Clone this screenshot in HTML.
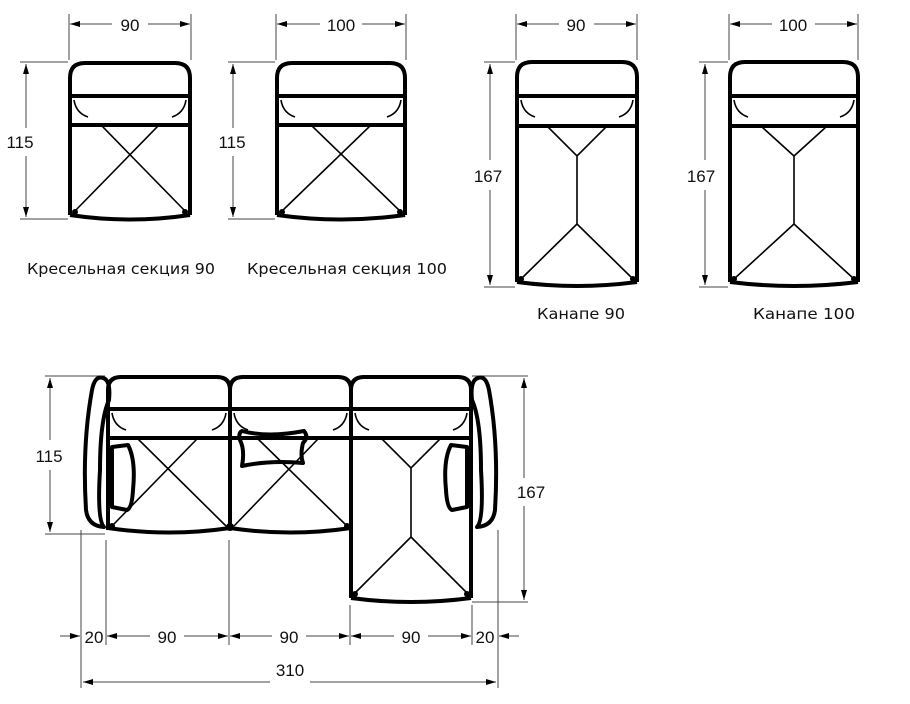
<!DOCTYPE html>
<html><head><meta charset="utf-8"><style>
html,body{margin:0;padding:0;background:#fff;}
svg{display:block;}
text{font-family:"Liberation Sans",sans-serif;fill:#111;}
text.l{font-family:"DejaVu Sans","Liberation Sans",sans-serif;}
.d{stroke:#444;stroke-width:1;fill:none;}
.o{stroke:#000;stroke-width:4;fill:none;stroke-linejoin:round;}
.t{stroke:#000;stroke-width:1.6;fill:none;}
</style></head><body>
<svg width="910" height="704" viewBox="0 0 910 704" xmlns="http://www.w3.org/2000/svg">
<defs>
<marker id="a" viewBox="0 0 10 6" refX="10" refY="3" markerWidth="10" markerHeight="6" orient="auto-start-reverse"><path d="M0,0L10,3L0,6z" fill="#000"/></marker>
</defs>

<!-- Chair 90 -->
<g>
<line class="d" x1="69" y1="14" x2="69" y2="60"/><line class="d" x1="191" y1="14" x2="191" y2="60"/>
<line class="d" x1="70" y1="24" x2="112" y2="24" marker-start="url(#a)"/><line class="d" x1="148" y1="24" x2="190" y2="24" marker-end="url(#a)"/>
<text x="130" y="31" font-size="17" text-anchor="middle">90</text>
<line class="d" x1="20" y1="62" x2="68" y2="62"/><line class="d" x1="20" y1="219" x2="68" y2="219"/>
<line class="d" x1="26" y1="64" x2="26" y2="128" marker-start="url(#a)"/><line class="d" x1="26" y1="156" x2="26" y2="217" marker-end="url(#a)"/>
<text x="20" y="148" font-size="17" text-anchor="middle">115</text>
<path class="o" d="M70,215 L70,78 Q70,63 85,63 L175,63 Q190,63 190,78 L190,215"/>
<line class="o" x1="70" y1="96" x2="190" y2="96"/>
<line class="o" x1="72" y1="125" x2="188" y2="125"/>
<path class="o" d="M70,215 Q130,224 190,215"/>
<path class="t" d="M74,100 Q76,113 88,117 M186,100 Q184,113 172,117"/>
<line class="t" x1="102" y1="126" x2="186" y2="212"/><line class="t" x1="158" y1="126" x2="74" y2="212"/>
<circle cx="75" cy="212" r="3"/><circle cx="185" cy="212" r="3"/>
</g>

<!-- Chair 100 -->
<g>
<line class="d" x1="276" y1="14" x2="276" y2="60"/><line class="d" x1="406" y1="14" x2="406" y2="60"/>
<line class="d" x1="277" y1="24" x2="320" y2="24" marker-start="url(#a)"/><line class="d" x1="362" y1="24" x2="405" y2="24" marker-end="url(#a)"/>
<text x="341" y="31" font-size="17" text-anchor="middle">100</text>
<line class="d" x1="228" y1="62" x2="275" y2="62"/><line class="d" x1="228" y1="219" x2="275" y2="219"/>
<line class="d" x1="233" y1="64" x2="233" y2="128" marker-start="url(#a)"/><line class="d" x1="233" y1="156" x2="233" y2="217" marker-end="url(#a)"/>
<text x="232" y="148" font-size="17" text-anchor="middle">115</text>
<path class="o" d="M277,215 L277,78 Q277,63 292,63 L390,63 Q405,63 405,78 L405,215"/>
<line class="o" x1="277" y1="96" x2="405" y2="96"/>
<line class="o" x1="279" y1="125" x2="403" y2="125"/>
<path class="o" d="M277,215 Q341,224 405,215"/>
<path class="t" d="M281,100 Q283,113 295,117 M401,100 Q399,113 387,117"/>
<line class="t" x1="312" y1="126" x2="401" y2="212"/><line class="t" x1="370" y1="126" x2="281" y2="212"/>
<circle cx="282" cy="212" r="3"/><circle cx="400" cy="212" r="3"/>
</g>
<text class="l" x="27" y="274" font-size="15.5" textLength="188" lengthAdjust="spacingAndGlyphs">Кресельная секция 90</text>
<text class="l" x="247" y="274" font-size="15.5" textLength="200" lengthAdjust="spacingAndGlyphs">Кресельная секция 100</text>

<!-- Canape 90 -->
<g>
<line class="d" x1="516" y1="14" x2="516" y2="60"/><line class="d" x1="637" y1="14" x2="637" y2="60"/>
<line class="d" x1="517" y1="24" x2="559" y2="24" marker-start="url(#a)"/><line class="d" x1="594" y1="24" x2="636" y2="24" marker-end="url(#a)"/>
<text x="576" y="31" font-size="17" text-anchor="middle">90</text>
<line class="d" x1="484" y1="62" x2="515" y2="62"/><line class="d" x1="484" y1="287" x2="515" y2="287"/>
<line class="d" x1="490" y1="64" x2="490" y2="160" marker-start="url(#a)"/><line class="d" x1="490" y1="190" x2="490" y2="285" marker-end="url(#a)"/>
<text x="488" y="182" font-size="17" text-anchor="middle">167</text>
<path class="o" d="M517,282 L517,77 Q517,62 532,62 L622,62 Q637,62 637,77 L637,282"/>
<line class="o" x1="517" y1="96" x2="637" y2="96"/>
<line class="o" x1="519" y1="126" x2="635" y2="126"/>
<path class="o" d="M517,282 Q577,290 637,282"/>
<path class="t" d="M521,100 Q523,113 535,117 M633,100 Q631,113 619,117"/>
<path class="t" d="M548,127 L577,156 L606,127 M577,156 L577,224 M577,224 L521,279 M577,224 L633,279"/>
<circle cx="521" cy="279" r="3"/><circle cx="633" cy="279" r="3"/>
</g>
<text class="l" x="537" y="319" font-size="15.5" textLength="88" lengthAdjust="spacingAndGlyphs">Канапе 90</text>

<!-- Canape 100 -->
<g>
<line class="d" x1="729" y1="14" x2="729" y2="60"/><line class="d" x1="858" y1="14" x2="858" y2="60"/>
<line class="d" x1="730" y1="24" x2="772" y2="24" marker-start="url(#a)"/><line class="d" x1="815" y1="24" x2="857" y2="24" marker-end="url(#a)"/>
<text x="793" y="31" font-size="17" text-anchor="middle">100</text>
<line class="d" x1="699" y1="62" x2="728" y2="62"/><line class="d" x1="699" y1="287" x2="728" y2="287"/>
<line class="d" x1="705" y1="64" x2="705" y2="160" marker-start="url(#a)"/><line class="d" x1="705" y1="190" x2="705" y2="285" marker-end="url(#a)"/>
<text x="701" y="182" font-size="17" text-anchor="middle">167</text>
<path class="o" d="M730,282 L730,77 Q730,62 745,62 L843,62 Q858,62 858,77 L858,282"/>
<line class="o" x1="730" y1="96" x2="858" y2="96"/>
<line class="o" x1="732" y1="126" x2="856" y2="126"/>
<path class="o" d="M730,282 Q794,290 858,282"/>
<path class="t" d="M734,100 Q736,113 748,117 M854,100 Q852,113 840,117"/>
<path class="t" d="M762,127 L794,156 L826,127 M794,156 L794,224 M794,224 L734,279 M794,224 L854,279"/>
<circle cx="734" cy="279" r="3"/><circle cx="854" cy="279" r="3"/>
</g>
<text class="l" x="753" y="319" font-size="15.5" textLength="102" lengthAdjust="spacingAndGlyphs">Канапе 100</text>

<!-- Big sofa -->
<g>
<line class="d" x1="45" y1="376" x2="105" y2="376"/><line class="d" x1="45" y1="534" x2="105" y2="534"/>
<line class="d" x1="50" y1="378" x2="50" y2="440" marker-start="url(#a)"/><line class="d" x1="50" y1="470" x2="50" y2="532" marker-end="url(#a)"/>
<text x="49" y="462" font-size="17" text-anchor="middle">115</text>
<line class="d" x1="472" y1="376" x2="528" y2="376"/><line class="d" x1="472" y1="602" x2="528" y2="602"/>
<line class="d" x1="524" y1="378" x2="524" y2="478" marker-start="url(#a)"/><line class="d" x1="524" y1="506" x2="524" y2="600" marker-end="url(#a)"/>
<text x="531" y="498" font-size="17" text-anchor="middle">167</text>
<line class="d" x1="81" y1="530" x2="81" y2="688"/><line class="d" x1="106" y1="540" x2="106" y2="645"/>
<line class="d" x1="229" y1="540" x2="229" y2="645"/><line class="d" x1="350" y1="605" x2="350" y2="645"/>
<line class="d" x1="472" y1="605" x2="472" y2="645"/><line class="d" x1="498" y1="530" x2="498" y2="688"/>
<line class="d" x1="60" y1="636" x2="80" y2="636" marker-end="url(#a)"/>
<line class="d" x1="107" y1="636" x2="150" y2="636" marker-start="url(#a)"/><line class="d" x1="184" y1="636" x2="228" y2="636" marker-end="url(#a)"/>
<line class="d" x1="230" y1="636" x2="272" y2="636" marker-start="url(#a)"/><line class="d" x1="306" y1="636" x2="349" y2="636" marker-end="url(#a)"/>
<line class="d" x1="351" y1="636" x2="394" y2="636" marker-start="url(#a)"/><line class="d" x1="428" y1="636" x2="471" y2="636" marker-end="url(#a)"/>
<line class="d" x1="499" y1="636" x2="519" y2="636" marker-start="url(#a)"/>
<text x="94" y="643" font-size="17" text-anchor="middle">20</text>
<text x="167" y="643" font-size="17" text-anchor="middle">90</text>
<text x="289" y="643" font-size="17" text-anchor="middle">90</text>
<text x="411" y="643" font-size="17" text-anchor="middle">90</text>
<text x="485" y="643" font-size="17" text-anchor="middle">20</text>
<line class="d" x1="83" y1="682" x2="270" y2="682" marker-start="url(#a)"/><line class="d" x1="310" y1="682" x2="496" y2="682" marker-end="url(#a)"/>
<text x="290" y="676" font-size="17" text-anchor="middle">310</text>

<path class="o" d="M103,378 Q95,375 92,390 Q82,445 86,510 Q88,526 104,527 Q97,520 100,470 Q100,420 109,400 Q111,380 103,378 Z"/>
<path class="o" d="M478,378 Q486,375 489,390 Q499,445 495,510 Q493,526 477,527 Q484,520 481,470 Q481,420 472,400 Q470,380 478,378 Z"/>
<path class="t" stroke-dasharray="3,2" d="M109,441 L109,505 M472,441 L472,505"/>
<path class="o" d="M108,439 L108,390 Q108,377 121,377 L217,377 Q230,377 230,390 Q230,377 243,377 L338,377 Q351,377 351,390 Q351,377 364,377 L458,377 Q471,377 471,390 L471,439"/>
<line class="o" x1="106" y1="409" x2="473" y2="409"/>
<line class="o" x1="108" y1="438" x2="471" y2="438"/>
<line class="o" x1="230" y1="390" x2="230" y2="530"/>
<line class="o" x1="351" y1="390" x2="351" y2="598"/>
<line class="o" x1="108" y1="439" x2="108" y2="530"/>
<line class="o" x1="471" y1="439" x2="471" y2="598"/>
<path class="o" d="M108,528 Q169,537 230,528 Q290,537 351,528"/>
<path class="o" d="M351,598 Q411,606 471,598"/>
<path class="t" d="M112,413 Q114,426 126,430 M226,413 Q224,426 212,430 M234,413 Q236,426 248,430 M347,413 Q345,426 333,430 M355,413 Q357,426 369,430 M467,413 Q465,426 453,430"/>
<line class="t" x1="138" y1="439" x2="226" y2="526"/><line class="t" x1="197" y1="439" x2="112" y2="526"/>
<line class="t" x1="258" y1="439" x2="347" y2="526"/><line class="t" x1="318" y1="439" x2="234" y2="526"/>
<path class="t" d="M382,439 L411,468 L440,439 M411,468 L411,537 M411,537 L355,593 M411,537 L467,593"/>
<circle cx="112" cy="526" r="3"/><circle cx="230" cy="527" r="4"/><circle cx="347" cy="526" r="3"/>
<circle cx="355" cy="594" r="3"/><circle cx="467" cy="594" r="3"/>
<path class="o" fill="#fff" d="M112,447 L128,445 Q136,460 133,490 Q132,508 127,510 L112,507 Z"/>
<path class="o" fill="#fff" d="M467,447 L451,445 Q443,460 446,490 Q447,508 452,510 L467,507 Z"/>
<path class="o" fill="#fff" d="M242,431 Q268,438 304,431 Q309,437 303,443 Q300,455 303,463 Q270,460 242,466 Q245,450 240,440 Q238,433 242,431 Z"/>
</g>
</svg>
</body></html>
